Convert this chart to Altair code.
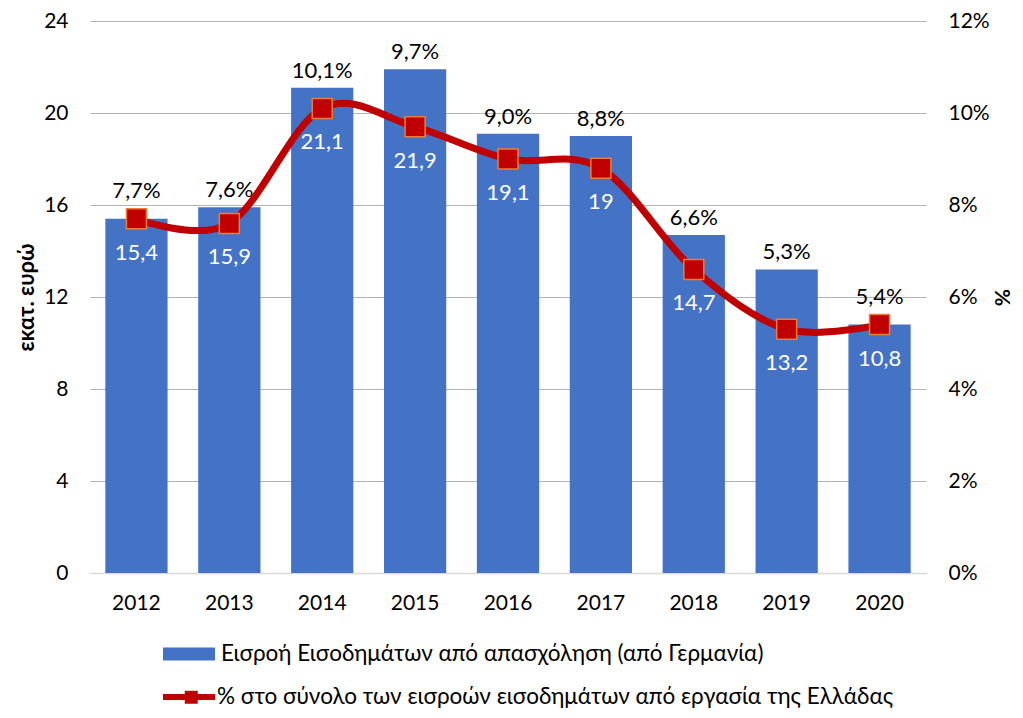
import altair as alt
import pandas as pd

years = ["2012", "2013", "2014", "2015", "2016", "2017", "2018", "2019", "2020"]
inflows = [15.4, 15.9, 21.1, 21.9, 19.1, 19.0, 14.7, 13.2, 10.8]
shares = [7.7, 7.6, 10.1, 9.7, 9.0, 8.8, 6.6, 5.3, 5.4]
inflow_labels = ["15,4", "15,9", "21,1", "21,9", "19,1", "19", "14,7", "13,2", "10,8"]
share_labels = ["7,7%", "7,6%", "10,1%", "9,7%", "9,0%", "8,8%", "6,6%", "5,3%", "5,4%"]
left_ticks = [0, 4, 8, 12, 16, 20, 24]
right_ticks = [0, 2, 4, 6, 8, 10, 12]
series_bar = "Εισροή Εισοδημάτων από απασχόληση (από Γερμανία)"
series_line = "% στο σύνολο των εισροών εισοδημάτων από εργασία της Ελλάδας"

df = pd.DataFrame({
    "year": years,
    "inflow": inflows,
    "share": shares,
    "inflow_label": inflow_labels,
    "share_label": share_labels,
    "bar_series": [series_bar] * len(years),
    "line_series": [series_line] * len(years),
    "marker_series": [series_line] * len(years),
})

FONT = "Lato"
BLUE = "#4472C4"
RED = "#C00000"
ORANGE = "#ED7D31"

x = alt.X(
    "year:N", title=None, sort=years,
    scale=alt.Scale(paddingInner=0.33, paddingOuter=0.165),
    axis=alt.Axis(labelAngle=0, labelFontSize=21, labelPadding=19, ticks=False,
                  domainColor="#D9D9D9", domainWidth=1.5, grid=False,
                  labelColor="#000000", labelFont=FONT),
)

y_left = alt.Y(
    "inflow:Q", title="εκατ. ευρώ",
    scale=alt.Scale(domain=[0, 24], nice=False, zero=True),
    axis=alt.Axis(values=left_ticks, grid=True, gridColor="#B3B3B3", gridWidth=1.2,
                  domain=False, ticks=False, labelPadding=22, labelFontSize=21,
                  labelColor="#000000", labelFont=FONT,
                  titleFont=FONT, titleFontSize=22, titleFontWeight="bold",
                  titleColor="#000000", titlePadding=5),
)

y_right = alt.Y(
    "share:Q", title="%",
    scale=alt.Scale(domain=[0, 12], nice=False, zero=True),
    axis=alt.Axis(orient="right", values=right_ticks, grid=False, domain=False,
                  ticks=False, labelPadding=22, labelFontSize=21,
                  labelExpr="datum.value + '%'",
                  labelColor="#000000", labelFont=FONT,
                  titleFont=FONT, titleFontSize=21, titleFontWeight="bold",
                  titleColor="#000000", titlePadding=1),
)

base = alt.Chart(df)

bars = base.mark_bar().encode(
    x=x,
    y=y_left,
    fill=alt.Fill(
        "bar_series:N",
        scale=alt.Scale(domain=[series_bar], range=[BLUE]),
        legend=alt.Legend(
            title=None, orient="none", legendX=86, legendY=620,
            symbolType="M-2,-0.5H2V0.5H-2Z", symbolSize=676,
            symbolStrokeWidth=0, labelFontSize=22.5, labelFont=FONT,
            labelColor="#000000", labelLimit=900, labelOffset=19,
            padding=0, offset=0,
        ),
    ),
)

# percent labels sit just above whichever is higher: bar top or marker top
share_text = base.transform_calculate(
    anchor="max(datum.inflow, 2 * datum.share + 0.45)"
).mark_text(
    baseline="bottom", dy=-5, fontSize=22, font=FONT, color="#000000"
).encode(x=x, y=alt.Y("anchor:Q", scale=alt.Scale(domain=[0, 24], nice=False), title="εκατ. ευρώ"),
         text="share_label:N")

line = base.mark_line(
    interpolate="cardinal", strokeWidth=7, strokeCap="round", strokeJoin="round"
).encode(
    x=x,
    y=y_right,
    stroke=alt.Stroke(
        "line_series:N",
        scale=alt.Scale(domain=[series_line], range=[RED]),
        legend=alt.Legend(
            title=None, orient="none", legendX=83, legendY=660,
            symbolType="M-2,0H2", symbolSize=676,
            symbolStrokeWidth=6, labelFontSize=22.5, labelFont=FONT,
            labelColor="#000000", labelLimit=900, labelOffset=12,
            padding=0, offset=0,
        ),
    ),
)

points = base.mark_point(
    filled=True, fill=RED, stroke=ORANGE, strokeWidth=1.5, size=400, opacity=1
).encode(
    x=x,
    y=y_right,
    shape=alt.Shape(
        "marker_series:N",
        scale=alt.Scale(range=["square"]),
        legend=alt.Legend(
            title=None, orient="none", legendX=90, legendY=665,
            symbolSize=169, symbolFillColor=RED, symbolStrokeColor=ORANGE,
            symbolStrokeWidth=1.2, symbolOpacity=1,
            labelExpr="''", labelFontSize=22.5, labelLimit=900,
            padding=0, offset=0,
        ),
    ),
)

inflow_text = base.mark_text(
    baseline="middle", dy=34, fontSize=22, font=FONT, color="#FFFFFF"
).encode(x=x, y=y_right, text="inflow_label:N")

left = alt.layer(bars, share_text)
right = alt.layer(line, points, inflow_text)

chart = (
    alt.layer(left, right)
    .resolve_scale(y="independent")
    .properties(
        width=836, height=552,
        autosize=alt.AutoSizeParams(type="none"),
        padding={"left": 82, "top": 13, "right": 89, "bottom": 137},
    )
    .configure_view(stroke=None)
)

chart.save("out.html", embed_options={"renderer": "svg", "actions": False})
